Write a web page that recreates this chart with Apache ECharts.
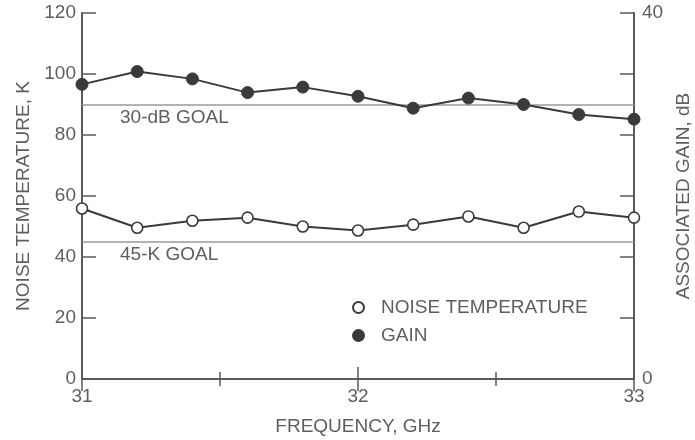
<!DOCTYPE html>
<html>
<head>
<meta charset="utf-8">
<script src="https://cdn.jsdelivr.net/npm/echarts@6/dist/echarts.min.js"></script>
<style>
  html, body { margin: 0; padding: 0; background: #fff; }
  #chart { width: 695px; height: 440px; }
</style>
</head>
<body>
<div id="chart"></div>
<script>
// Measured amplifier performance across 31-33 GHz
const frequencyGHz = [31.0, 31.2, 31.4, 31.6, 31.8, 32.0, 32.2, 32.4, 32.6, 32.8, 33.0];
const noiseTemperatureK = [55.9, 49.6, 51.9, 52.9, 50.0, 48.7, 50.6, 53.3, 49.6, 54.9, 52.9];
const associatedGainDb = [32.2, 33.6, 32.8, 31.3, 31.9, 30.9, 29.6, 30.7, 30.0, 28.9, 28.4];

const noiseGoalK = 45;
const gainGoalDb = 30;

const seriesNames = ['NOISE TEMPERATURE', 'GAIN'];
const axisTitles = { x: 'FREQUENCY, GHz', left: 'NOISE TEMPERATURE, K', right: 'ASSOCIATED GAIN, dB' };

const FONT = 'Liberation Sans, Arial, Helvetica, sans-serif';
const FS = 19;
const TEXT = '#5e5e5e';
const FRAME = '#5a5a5a';
const INK = '#3a3a3a';

const pairs = (ys) => frequencyGHz.map((f, i) => [f, ys[i]]);

const frameLine = { show: true, lineStyle: { color: FRAME, width: 2 } };
const tickStyle = { color: FRAME, width: 1.5 };

const chart = echarts.init(document.getElementById('chart'), null, { renderer: 'canvas' });

chart.setOption({
  backgroundColor: '#fff',
  animation: false,
  textStyle: { fontFamily: FONT },
  grid: { left: 82, right: 61, top: 13, bottom: 61, containLabel: false, outerBoundsMode: 'none' },
  legend: {
    orient: 'vertical',
    left: 347,
    top: 293,
    itemGap: 9,
    itemWidth: 11,
    itemHeight: 11,
    icon: 'circle',
    textStyle: { fontFamily: FONT, fontSize: FS, color: TEXT, padding: [0, 0, 0, 12] },
    data: seriesNames
  },
  xAxis: [
    {
      type: 'value', position: 'bottom', min: 31, max: 33, interval: 1,
      axisLine: frameLine,
      axisTick: { show: true, inside: true, length: 12, lineStyle: tickStyle },
      minorTick: { show: true, splitNumber: 2, length: 7, lineStyle: tickStyle },
      splitLine: { show: false },
      axisLabel: { fontFamily: FONT, fontSize: FS, color: TEXT, margin: 8 },
      name: axisTitles.x, nameLocation: 'middle', nameGap: 38,
      nameTextStyle: { fontFamily: FONT, fontSize: FS, color: TEXT }
    },
    {
      type: 'value', position: 'top', min: 31, max: 33, interval: 1,
      axisLine: frameLine,
      axisTick: { show: true, inside: true, length: 12, lineStyle: tickStyle },
      minorTick: { show: true, splitNumber: 2, length: 7, lineStyle: tickStyle },
      splitLine: { show: false },
      axisLabel: { show: false }
    }
  ],
  yAxis: [
    {
      type: 'value', position: 'left', min: 0, max: 120, interval: 20,
      axisLine: frameLine,
      axisTick: { show: true, inside: true, length: 14, lineStyle: tickStyle },
      splitLine: { show: false },
      axisLabel: { fontFamily: FONT, fontSize: FS, color: TEXT, margin: 6 },
      name: axisTitles.left, nameLocation: 'middle', nameGap: 47, nameRotate: 90,
      nameTextStyle: { fontFamily: FONT, fontSize: FS, color: TEXT }
    },
    {
      type: 'value', position: 'right', min: 0, max: 40, interval: 40,
      axisLine: frameLine,
      axisTick: { show: false },
      splitLine: { show: false },
      axisLabel: { fontFamily: FONT, fontSize: FS, color: TEXT, margin: 8 },
      name: axisTitles.right, nameLocation: 'middle', nameGap: 39, nameRotate: 90,
      nameTextStyle: { fontFamily: FONT, fontSize: FS, color: TEXT }
    },
    {
      // mirrored temperature ticks along the right edge of the frame
      type: 'value', position: 'right', min: 0, max: 120, interval: 20,
      axisLine: frameLine,
      axisTick: { show: true, inside: true, length: 14, lineStyle: tickStyle },
      splitLine: { show: false },
      axisLabel: { show: false }
    }
  ],
  series: [
    {
      name: seriesNames[0],
      type: 'line',
      xAxisIndex: 0,
      yAxisIndex: 0,
      data: pairs(noiseTemperatureK),
      symbol: 'circle',
      symbolSize: 11,
      z: 3,
      lineStyle: { color: INK, width: 2 },
      itemStyle: { color: '#fff', borderColor: INK, borderWidth: 1.6 },
      markLine: {
        silent: true,
        symbol: 'none',
        z: 1,
        lineStyle: { color: '#9a9a9a', width: 1.5, type: 'solid' },
        label: {
          show: true, position: 'insideStartBottom', distance: [38, 4],
          formatter: '45-K GOAL', fontFamily: FONT, fontSize: FS, color: TEXT
        },
        data: [{ yAxis: noiseGoalK }]
      }
    },
    {
      name: seriesNames[1],
      type: 'line',
      xAxisIndex: 0,
      yAxisIndex: 1,
      data: pairs(associatedGainDb),
      symbol: 'circle',
      symbolSize: 12,
      z: 3,
      lineStyle: { color: INK, width: 2 },
      itemStyle: { color: INK, borderColor: INK, borderWidth: 1 },
      markLine: {
        silent: true,
        symbol: 'none',
        z: 1,
        lineStyle: { color: '#9a9a9a', width: 1.5, type: 'solid' },
        label: {
          show: true, position: 'insideStartBottom', distance: [38, 4],
          formatter: '30-dB GOAL', fontFamily: FONT, fontSize: FS, color: TEXT
        },
        data: [{ yAxis: gainGoalDb }]
      }
    }
  ]
});
</script>
</body>
</html>
